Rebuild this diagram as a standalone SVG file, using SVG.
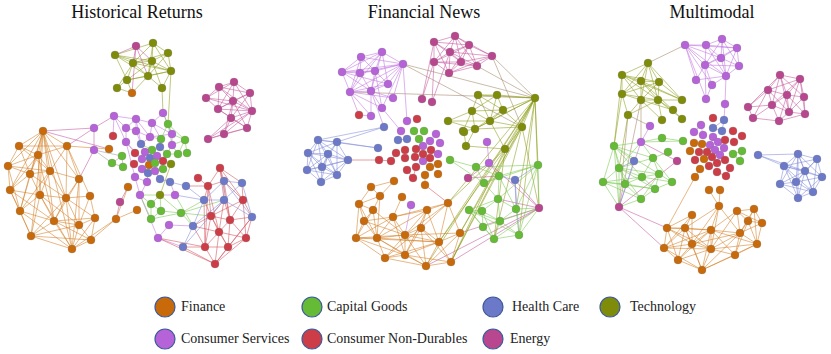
<svg xmlns="http://www.w3.org/2000/svg" width="831" height="354" viewBox="0 0 831 354">
<style>
.t{font-family:"Liberation Serif","Times New Roman",serif;font-size:18px;text-anchor:middle;fill:#111}
.l{font-family:"Liberation Serif","Times New Roman",serif;font-size:14px;fill:#222}
.e{fill:none;stroke-width:0.9;stroke-opacity:0.6}
.ef{stroke:#d27a1e}.eg{stroke:#76c84a}.eh{stroke:#7c88d8}.et{stroke:#8a9a10}.es{stroke:#c070e0}.ec{stroke:#d24a55}.ee{stroke:#c4509a}.eb{stroke:#a08060}.ey{stroke:#999}
circle.n{stroke:#777;stroke-opacity:0.5;stroke-width:0.5}
.fi{fill:#c8690a}.cg{fill:#66bb36}.hc{fill:#6c79c8}.te{fill:#7e8c0a}.cs{fill:#b662d9}.cn{fill:#cc3d47}.en{fill:#b9478f}
circle.k{stroke:#3d5a99;stroke-width:1.2}
</style>
<g id="titles">
<text class="t" x="137" y="18">Historical Returns</text>
<text class="t" x="424" y="18">Financial News</text>
<text class="t" x="712" y="18">Multimodal</text>
</g>
<g id="connectors">
<path class="e et" d="M115 55L133 63M115 55L153 43M115 55L152 61M115 55L127 80M115 55L148 76M115 55L171 71M133 63L153 43M133 63L152 61M133 63L168 53M133 63L171 71M133 63L148 76M133 63L127 80M133 63L117 88M153 43L168 53M153 43L152 61M153 43L171 71M153 43L148 76M168 53L152 61M168 53L171 71M168 53L148 76M152 61L171 71M152 61L148 76M152 61L127 80M152 61L162 88M171 71L148 76M171 71L162 88M171 71L127 80M127 80L148 76M127 80L117 88M148 76L162 88M117 88L132 93M127 80L132 93M148 76L132 93M171 71L168 124M162 88L163 113M171 164L160 195"/>
<path class="e ee" d="M115 55L136 46M136 46L152 61M136 46L148 76M136 46L132 93M136 46L133 63M234 82L219 87M234 82L250 93M234 82L206 98M234 82L233 101M234 82L218 109M234 82L252 111M219 87L206 98M219 87L233 101M219 87L218 109M219 87L250 93M219 87L252 111M250 93L233 101M250 93L252 111M250 93L218 109M250 93L231 118M206 98L233 101M206 98L218 109M206 98L252 111M233 101L218 109M233 101L252 111M233 101L231 118M233 101L247 128M218 109L252 111M218 109L231 118M218 109L247 128M252 111L231 118M252 111L247 128M231 118L247 128M231 118L224 134M231 118L208 139M247 128L224 134M247 128L208 139M224 134L208 139M252 111L224 134M233 101L224 134M252 111L208 139M43 131L94 128M94 128L94 150M94 150L79 179M94 128L114 116M120 202L116 219M120 202L128 187M43 131L109 149M67 146L94 128"/>
<path class="e ef" d="M43 131L19 146M43 131L38 155M43 131L30 174M43 131L50 171M43 131L8 166M43 131L40 195M43 131L10 190M43 131L20 211M43 131L67 146M43 131L54 221M43 131L66 198M43 131L79 179M43 131L31 236M43 131L72 249M19 146L38 155M19 146L8 166M19 146L30 174M19 146L50 171M19 146L67 146M38 155L8 166M38 155L30 174M38 155L50 171M38 155L40 195M38 155L10 190M38 155L67 146M38 155L54 221M8 166L30 174M8 166L10 190M8 166L20 211M8 166L50 171M30 174L50 171M30 174L10 190M30 174L40 195M30 174L20 211M30 174L66 198M50 171L40 195M50 171L66 198M50 171L67 146M50 171L79 179M50 171L20 211M67 146L79 179M67 146L66 198M67 146L90 196M67 146L109 149M79 179L66 198M79 179L79 225M79 179L72 249M79 179L54 221M10 190L40 195M10 190L20 211M10 190L31 236M10 190L54 221M40 195L66 198M40 195L20 211M40 195L54 221M40 195L31 236M40 195L72 249M40 195L79 225M66 198L54 221M66 198L79 225M66 198L90 196M66 198L31 236M66 198L95 218M66 198L72 249M20 211L54 221M20 211L31 236M20 211L72 249M54 221L79 225M54 221L31 236M54 221L72 249M54 221L91 240M54 221L95 218M79 225L95 218M79 225L91 240M79 225L72 249M90 196L79 225M90 196L95 218M95 218L91 240M95 218L72 249M31 236L72 249M31 236L91 240M91 240L72 249M31 236L79 225M72 249L116 219M116 219L137 210M128 187L116 219M116 219L91 240"/>
<path class="e ey" d="M94 150L122 156M122 156L112 163M122 156L123 167M112 163L123 167M94 150L112 163"/>
<path class="e es" d="M114 116L136 119M114 116L126 128M114 116L113 136M114 116L126 142M136 119L152 123M136 119L126 128M136 119L136 131M136 119L150 137M136 119L141 144M152 123L150 137M152 123L172 134M152 123L161 139M152 123L163 113M126 128L136 131M126 128L126 142M136 131L150 137M136 131L141 144M150 137L161 139M150 137L141 144M150 137L172 134M172 134L172 145M163 113L172 134M126 142L135 153M126 142L135 177M135 177L140 195M135 177L147 182M126 142L142 159M145 152L142 159M140 195L158 238M140 195L147 182M175 195L160 195M169 225L158 238M169 225L193 226M158 238L183 247M175 195L170 182M141 144L145 152M142 169L148 173M148 173L147 182"/>
<path class="e eg" d="M163 113L168 124M168 124L185 140M168 124L172 145M168 124L161 139M168 124L172 134M185 140L187 153M185 140L178 154M185 140L172 145M185 140L172 134M161 139L160 147M167 154L178 154M160 195L151 204M160 195L161 211M160 195L181 213M151 204L161 211M151 204L151 219M161 211L181 213M161 211L151 219M181 213L151 219M181 213L193 226M181 213L204 200M181 213L211 216M181 213L224 200M140 195L160 195M140 195L151 204M140 195L151 219M141 144L152 150M172 145L167 154M172 145L178 154M155 171L163 169M160 147L167 154M175 195L193 226"/>
<path class="e ec" d="M186 186L208 186M198 178L208 186M208 186L220 168M208 186L224 181M208 186L204 200M208 186L211 216M208 186L205 247M208 186L219 232M220 168L224 181M220 168L242 183M220 168L243 200M220 168L230 220M220 168L224 200M224 181L243 200M224 181L230 220M242 183L243 200M243 200L252 217M243 200L230 220M243 200L246 238M243 200L211 216M204 200L211 216M224 200L211 216M224 200L230 220M224 200L219 232M211 216L230 220M211 216L219 232M211 216L205 247M211 216L228 247M230 220L252 217M230 220L219 232M230 220L246 238M230 220L228 247M252 217L246 238M252 217L228 247M252 217L215 264M219 232L246 238M219 232L205 247M219 232L228 247M219 232L215 264M246 238L228 247M246 238L215 264M205 247L228 247M205 247L215 264M228 247L215 264M183 247L205 247M183 247L215 264M193 226L219 232M193 226L205 247M158 238L205 247M204 200L205 247M193 226L211 216M158 238L215 264"/>
<path class="e eh" d="M160 179L170 182M170 182L186 186M224 181L242 183M224 181L224 200M242 183L252 217M204 200L224 200M204 200L193 226M224 200L252 217M183 247L193 226M193 226L224 200M183 247L224 200M242 183L224 200M252 217L224 181M204 200L224 181M186 186L204 200M175 195L204 200M160 179L155 171"/>

<path class="e ee" d="M455 36L434 42M455 36L469 45M455 36L450 52M455 36L461 62M455 36L434 62M455 36L492 56M455 36L477 66M434 42L450 52M434 42L434 62M434 42L469 45M434 42L461 62M434 42L449 73M469 45L450 52M469 45L492 56M469 45L461 62M469 45L477 66M469 45L449 73M469 45L434 62M450 52L434 62M450 52L461 62M450 52L449 73M450 52L477 66M450 52L492 56M492 56L461 62M492 56L477 66M492 56L449 73M434 62L461 62M434 62L449 73M434 62L477 66M461 62L477 66M461 62L449 73M477 66L449 73M434 62L422 99M434 42L422 99M434 62L432 102M450 52L432 102M468 178L489 163M468 178L499 176M539 208L489 163M539 208L515 180M539 208L460 233M539 208L451 262M539 208L426 266M539 208L498 199"/>
<path class="e eb" d="M492 56L535 98M492 56L522 127M477 66L535 98M403 64L535 98M403 64L522 127M350 92L535 98"/>
<path class="e es" d="M382 52L361 57M382 52L360 73M382 52L375 71M382 52L403 64M382 52L342 72M382 52L388 84M382 52L371 91M382 52L350 92M361 57L342 72M361 57L360 73M361 57L375 71M361 57L350 92M361 57L403 64M342 72L360 73M342 72L375 71M342 72L403 64M342 72L350 92M342 72L371 91M342 72L388 84M360 73L375 71M360 73L403 64M360 73L350 92M360 73L371 91M375 71L403 64M375 71L388 84M375 71L371 91M375 71L382 108M403 64L388 84M403 64L350 92M403 64L371 91M403 64L393 98M403 64L382 108M388 84L371 91M388 84L350 92M350 92L371 91M350 92L382 108M350 92L359 115M350 92L371 116M371 91L382 108M371 91L393 98M371 91L371 116M350 92L393 98M403 64L407 121M359 115L371 116M371 91L384 127M382 108L401 131M487 142L489 163M489 163L499 176M411 205L405 235"/>
<path class="e et" d="M478 95L497 95M478 95L472 111M478 95L503 110M478 95L490 121M478 95L535 98M497 95L535 98M497 95L503 110M497 95L472 111M497 95L490 121M472 111L503 110M472 111L448 121M472 111L490 121M472 111L475 129M472 111L463 131M503 110L490 121M503 110L522 127M503 110L535 98M503 110L475 129M448 121L490 121M448 121L475 129M490 121L475 129M490 121L522 127M490 121L505 149M475 129L463 131M475 129L466 146M464 132L466 146M466 146L505 149M505 149L522 127M535 98L522 127M535 98L505 149M535 98L490 121M535 98L475 129M522 127L475 129M535 98L448 203M535 98L460 233M535 98L439 242M535 98L451 262M535 98L426 266M535 98L538 165M535 98L539 208M535 98L519 235M535 98L516 209M522 127L451 262M522 127L460 233M505 149L448 203M505 149L439 242M505 149L451 262M522 127L539 208M522 127L494 239M505 149L494 239"/>
<path class="e eh" d="M318 140L337 142M318 140L308 153M318 140L328 154M318 140L348 160M318 140L322 167M318 140L337 175M318 140L307 170M337 142L328 154M337 142L348 160M337 142L322 167M337 142L308 153M337 142L378 148M337 142L337 175M308 153L328 154M308 153L322 167M308 153L307 170M308 153L348 160M308 153L321 182M308 153L337 175M328 154L348 160M328 154L322 167M328 154L337 175M328 154L321 182M328 154L307 170M348 160L322 167M348 160L337 175M348 160L321 182M348 160L307 170M322 167L307 170M322 167L337 175M322 167L321 182M307 170L321 182M307 170L337 175M337 175L321 182M318 140L378 148M384 127L337 142M384 127L318 140M398 140L407 139M515 180L516 209M515 180L519 235M515 180L499 176M515 180L538 165"/>
<path class="e ec" d="M348 160L379 160M379 160L391 161M391 161L396 153M407 170L413 178M416 167L413 178M448 203L425 185"/>
<path class="e ef" d="M394 181L371 187M394 181L380 196M371 187L380 196M371 187L359 204M380 196L359 204M380 196L373 210M380 196L377 238M359 204L373 210M359 204L364 221M359 204L356 238M359 204L377 238M402 197L393 217M373 210L364 221M373 210L377 238M373 210L356 238M373 210L405 235M448 203L427 210M448 203L421 228M448 203L460 233M448 203L439 242M448 203L405 235M448 203L393 217M427 210L393 217M427 210L421 228M427 210L405 235M427 210L439 242M427 210L377 238M427 210L405 255M393 217L405 235M393 217L364 221M393 217L356 238M393 217L405 255M393 217L377 238M364 221L356 238M364 221L377 238M364 221L405 235M421 228L405 235M421 228L439 242M421 228L405 255M421 228L426 266M421 228L451 262M421 228L385 258M405 235L356 238M405 235L377 238M405 235L460 233M405 235L439 242M405 235L385 258M405 235L405 255M405 235L426 266M356 238L377 238M356 238L439 242M356 238L385 258M356 238L405 255M377 238L439 242M377 238L385 258M377 238L405 255M377 238L426 266M460 233L439 242M460 233L451 262M460 233L426 266M439 242L405 255M439 242L426 266M439 242L451 262M439 242L385 258M385 258L405 255M385 258L426 266M405 255L426 266M405 255L451 262M426 266L451 262M425 185L425 175"/>
<path class="e eg" d="M450 160L476 167M476 167L499 176M476 167L484 183M476 167L538 165M499 176L538 165M499 176L484 183M499 176L498 199M499 176L516 209M484 183L498 199M484 183L538 165M498 199L516 209M498 199L469 210M498 199L482 211M498 199L500 221M498 199L538 165M469 210L482 211M469 210L500 221M469 210L483 227M469 210L494 239M482 211L500 221M482 211L483 227M516 209L500 221M516 209L519 235M516 209L538 165M500 221L483 227M500 221L494 239M500 221L519 235M483 227L494 239M494 239L519 235M538 165L519 235M482 211L494 239M450 160L484 183M469 210L519 235M516 209L539 208M519 235L539 208M538 165L539 208M494 239L539 208M500 221L539 208"/>

<path class="e es" d="M722 39L706 45M722 39L737 48M722 39L721 58M722 39L739 66M722 39L726 76M722 39L705 65M685 45L706 45M685 45L721 58M685 45L705 65M685 45L696 80M685 45L737 48M685 45L726 76M685 45L706 99M685 45L712 85M706 45L737 48M706 45L721 58M706 45L705 65M706 45L726 76M737 48L721 58M737 48L739 66M737 48L726 76M737 48L705 65M721 58L705 65M721 58L739 66M721 58L726 76M705 65L726 76M705 65L696 80M705 65L712 85M705 65L739 66M739 66L726 76M726 76L712 85M726 76L725 104M726 76L696 80M712 85L706 99M705 65L706 99M725 104L724 120M701 125L694 132M701 125L703 135M619 207L641 142M650 126L641 142"/>
<path class="e eh" d="M724 120L713 128M713 128L722 131M724 120L722 131M634 161L619 168M634 161L619 207M758 155L798 154M758 155L784 166M758 155L805 171M798 154L817 159M798 154L784 166M798 154L805 171M798 154L822 177M798 154L796 182M798 154L813 192M798 154L798 198M798 154L780 184M817 159L784 166M817 159L805 171M817 159L822 177M817 159L796 182M817 159L813 192M784 166L805 171M784 166L780 184M784 166L796 182M784 166L813 192M784 166L798 198M784 166L822 177M805 171L822 177M805 171L780 184M805 171L796 182M805 171L813 192M805 171L798 198M822 177L796 182M822 177L813 192M822 177L798 198M780 184L796 182M780 184L798 198M796 182L813 192M796 182L798 198M813 192L798 198M780 184L813 192"/>
<path class="e eb" d="M685 45L648 63M628 115L650 126M641 100L641 142M628 115L619 207M619 207L641 100"/>
<path class="e et" d="M648 63L622 75M648 63L641 81M648 63L659 82M648 63L622 94M648 63L641 100M648 63L658 100M648 63L682 100M622 75L641 81M622 75L659 82M622 75L622 94M622 75L641 100M622 75L658 100M622 75L682 100M641 81L659 82M641 81L622 94M641 81L641 100M641 81L658 100M641 81L682 100M641 81L673 110M659 82L641 100M659 82L658 100M659 82L682 100M659 82L622 94M622 94L641 100M622 94L658 100M622 94L628 115M641 100L658 100M641 100L673 110M641 100L628 115M641 100L662 120M658 100L673 110M658 100L682 100M658 100L662 120M658 100L682 119M673 110L682 119M628 115L658 100M622 94L614 146M622 75L614 146M628 115L619 168"/>
<path class="e ee" d="M780 75L800 79M780 75L768 90M780 75L787 95M780 75L804 97M780 75L772 105M780 75L789 112M780 75L748 107M800 79L768 90M800 79L787 95M800 79L804 97M800 79L789 112M800 79L805 114M800 79L772 105M768 90L787 95M768 90L772 105M768 90L748 107M768 90L789 112M768 90L753 118M787 95L804 97M787 95L772 105M787 95L789 112M787 95L805 114M787 95L779 121M804 97L789 112M804 97L805 114M772 105L748 107M772 105L789 112M772 105L753 118M772 105L779 121M748 107L753 118M789 112L805 114M789 112L779 121M805 114L779 121M753 118L779 121M641 142L677 161M677 161L619 207M619 207L667 228M619 207L664 248"/>
<path class="e eg" d="M614 146L641 142M614 146L619 168M614 146L603 182M614 146L625 184M614 146L642 177M614 146L634 161M614 146L653 158M614 146L659 174M641 142L662 138M641 142L653 158M641 142L619 168M662 138L683 141M683 141L641 142M653 158L619 168M653 158L668 152M653 158L642 177M653 158L659 174M653 158L672 182M619 168L603 182M619 168L625 184M619 168L642 177M619 168L659 174M619 168L655 189M619 168L641 199M603 182L625 184M603 182L642 177M603 182L655 189M603 182L641 199M625 184L642 177M625 184L655 189M625 184L641 199M642 177L659 174M642 177L672 182M642 177L655 189M659 174L672 182M659 174L655 189M672 182L655 189M655 189L641 199M641 199L659 174M603 182L619 207M619 168L619 207M641 199L619 207M614 146L619 207M733 154L742 151M742 151L740 161M733 154L740 161"/>
<path class="e ec" d="M717 172L726 176M730 168L726 176"/>
<path class="e ef" d="M700 169L695 177M695 177L667 228M709 190L719 206M720 190L719 206M719 206L711 230M719 206L685 228M719 206L711 249M719 206L740 233M719 206L692 244M692 215L667 228M692 215L685 228M692 215L692 244M692 215L664 248M737 211L754 209M737 211L748 221M737 211L711 230M737 211L740 233M737 211L711 249M737 211L762 223M754 209L748 221M754 209L762 223M754 209L740 233M754 209L757 244M748 221L762 223M748 221L740 233M748 221L757 244M748 221L735 255M762 223L740 233M762 223L757 244M667 228L685 228M667 228L692 244M667 228L664 248M667 228L711 230M667 228L711 249M667 228L678 260M685 228L711 230M685 228L692 244M685 228L664 248M685 228L711 249M685 228L678 260M685 228L702 270M711 230L740 233M711 230L692 244M711 230L711 249M711 230L735 255M711 230L678 260M711 230L702 270M711 230L664 248M711 230L757 244M740 233L757 244M740 233L711 249M740 233L735 255M740 233L692 244M740 233L702 270M692 244L664 248M692 244L711 249M692 244L678 260M692 244L702 270M757 244L735 255M757 244L711 249M757 244L702 270M664 248L711 249M664 248L678 260M664 248L702 270M711 249L735 255M711 249L678 260M711 249L702 270M735 255L702 270M678 260L702 270"/>
</g>
<g id="historical-nodes">
<circle class="n te" id="h1" cx="153" cy="43" r="4"/><circle class="n te" id="h2" cx="115" cy="55" r="4"/><circle class="n te" id="h3" cx="168" cy="53" r="4"/><circle class="n te" id="h4" cx="133" cy="63" r="4"/><circle class="n te" id="h5" cx="152" cy="61" r="4"/><circle class="n te" id="h6" cx="171" cy="71" r="4"/><circle class="n te" id="h7" cx="127" cy="80" r="4"/><circle class="n te" id="h8" cx="148" cy="76" r="4"/><circle class="n te" id="h9" cx="117" cy="88" r="4"/><circle class="n te" id="h10" cx="162" cy="88" r="4"/><circle class="n en" id="h11" cx="136" cy="46" r="4"/><circle class="n fi" id="h12" cx="132" cy="93" r="4"/>
<circle class="n en" id="h13" cx="234" cy="82" r="4"/><circle class="n en" id="h14" cx="219" cy="87" r="4"/><circle class="n en" id="h15" cx="250" cy="93" r="4"/><circle class="n en" id="h16" cx="206" cy="98" r="4"/><circle class="n en" id="h17" cx="233" cy="101" r="4"/><circle class="n en" id="h18" cx="218" cy="109" r="4"/><circle class="n en" id="h19" cx="252" cy="111" r="4"/><circle class="n en" id="h20" cx="231" cy="118" r="4"/><circle class="n en" id="h21" cx="247" cy="128" r="4"/><circle class="n en" id="h22" cx="224" cy="134" r="4"/><circle class="n en" id="h23" cx="208" cy="139" r="4"/>
<circle class="n fi" id="h24" cx="43" cy="131" r="4"/><circle class="n fi" id="h25" cx="19" cy="146" r="4"/><circle class="n fi" id="h26" cx="67" cy="146" r="4"/><circle class="n fi" id="h27" cx="38" cy="155" r="4"/><circle class="n fi" id="h28" cx="8" cy="166" r="4"/><circle class="n fi" id="h29" cx="30" cy="174" r="4"/><circle class="n fi" id="h30" cx="50" cy="171" r="4"/><circle class="n fi" id="h31" cx="79" cy="179" r="4"/><circle class="n fi" id="h32" cx="10" cy="190" r="4"/><circle class="n fi" id="h33" cx="40" cy="195" r="4"/><circle class="n fi" id="h34" cx="66" cy="198" r="4"/><circle class="n fi" id="h35" cx="90" cy="196" r="4"/><circle class="n fi" id="h36" cx="20" cy="211" r="4"/><circle class="n fi" id="h37" cx="54" cy="221" r="4"/><circle class="n fi" id="h38" cx="79" cy="225" r="4"/><circle class="n fi" id="h39" cx="95" cy="218" r="4"/><circle class="n fi" id="h40" cx="31" cy="236" r="4"/><circle class="n fi" id="h41" cx="91" cy="240" r="4"/><circle class="n fi" id="h42" cx="72" cy="249" r="4"/><circle class="n fi" id="h43" cx="128" cy="187" r="4"/><circle class="n fi" id="h44" cx="116" cy="219" r="4"/><circle class="n fi" id="h45" cx="137" cy="210" r="4"/><circle class="n fi" id="h46" cx="109" cy="149" r="4"/>
<circle class="n cs" id="h47" cx="163" cy="113" r="4"/><circle class="n cg" id="h48" cx="168" cy="124" r="4"/><circle class="n cs" id="h49" cx="114" cy="116" r="4"/><circle class="n cs" id="h50" cx="94" cy="128" r="4"/><circle class="n cs" id="h51" cx="136" cy="119" r="4"/><circle class="n cs" id="h52" cx="152" cy="123" r="4"/><circle class="n cs" id="h53" cx="126" cy="128" r="4"/><circle class="n cs" id="h54" cx="136" cy="131" r="4"/><circle class="n cs" id="h55" cx="150" cy="137" r="4"/><circle class="n cs" id="h56" cx="172" cy="134" r="4"/><circle class="n cn" id="h57" cx="113" cy="136" r="4"/><circle class="n cg" id="h58" cx="161" cy="139" r="4"/><circle class="n cg" id="h59" cx="185" cy="140" r="4"/><circle class="n hc" id="h60" cx="141" cy="144" r="4"/><circle class="n cs" id="h61" cx="126" cy="142" r="4"/><circle class="n cg" id="h62" cx="152" cy="150" r="4"/><circle class="n hc" id="h63" cx="160" cy="147" r="4"/><circle class="n cs" id="h64" cx="172" cy="145" r="4"/><circle class="n cn" id="h65" cx="135" cy="153" r="4"/><circle class="n cs" id="h66" cx="145" cy="152" r="4"/><circle class="n hc" id="h67" cx="150" cy="158" r="4"/><circle class="n cs" id="h68" cx="157" cy="156" r="4"/><circle class="n cg" id="h69" cx="167" cy="154" r="4"/><circle class="n cg" id="h70" cx="178" cy="154" r="4"/><circle class="n cg" id="h71" cx="187" cy="153" r="4"/><circle class="n cn" id="h72" cx="134" cy="164" r="4"/><circle class="n cs" id="h73" cx="142" cy="159" r="4"/><circle class="n fi" id="h74" cx="149" cy="165" r="4"/><circle class="n cg" id="h75" cx="155" cy="163" r="4"/><circle class="n cn" id="h76" cx="163" cy="161" r="4"/><circle class="n te" id="h77" cx="171" cy="164" r="4"/><circle class="n cs" id="h78" cx="142" cy="169" r="4"/><circle class="n hc" id="h79" cx="148" cy="173" r="4"/><circle class="n cs" id="h80" cx="155" cy="171" r="4"/><circle class="n cg" id="h81" cx="163" cy="169" r="4"/><circle class="n cs" id="h82" cx="135" cy="177" r="4"/><circle class="n cs" id="h83" cx="147" cy="182" r="4"/><circle class="n hc" id="h84" cx="160" cy="179" r="4"/><circle class="n hc" id="h85" cx="170" cy="182" r="4"/><circle class="n hc" id="h86" cx="186" cy="186" r="4"/><circle class="n cs" id="h87" cx="94" cy="150" r="4"/><circle class="n cg" id="h88" cx="122" cy="156" r="4"/><circle class="n cg" id="h89" cx="112" cy="163" r="4"/><circle class="n cg" id="h90" cx="123" cy="167" r="4"/><circle class="n en" id="h91" cx="120" cy="202" r="4"/>
<circle class="n cs" id="h92" cx="140" cy="195" r="4"/><circle class="n te" id="h93" cx="160" cy="195" r="4"/><circle class="n cs" id="h94" cx="175" cy="195" r="4"/><circle class="n cn" id="h95" cx="198" cy="178" r="4"/><circle class="n cn" id="h96" cx="208" cy="186" r="4"/><circle class="n cn" id="h97" cx="220" cy="168" r="4"/><circle class="n hc" id="h98" cx="224" cy="181" r="4"/><circle class="n hc" id="h99" cx="242" cy="183" r="4"/><circle class="n hc" id="h100" cx="204" cy="200" r="4"/><circle class="n hc" id="h101" cx="224" cy="200" r="4"/><circle class="n cn" id="h102" cx="243" cy="200" r="4"/><circle class="n cg" id="h103" cx="151" cy="204" r="4"/><circle class="n cg" id="h104" cx="161" cy="211" r="4"/><circle class="n cg" id="h105" cx="181" cy="213" r="4"/><circle class="n cg" id="h106" cx="151" cy="219" r="4"/><circle class="n cn" id="h107" cx="211" cy="216" r="4"/><circle class="n cn" id="h108" cx="230" cy="220" r="4"/><circle class="n hc" id="h109" cx="252" cy="217" r="4"/><circle class="n cs" id="h110" cx="169" cy="225" r="4"/><circle class="n hc" id="h111" cx="193" cy="226" r="4"/><circle class="n cn" id="h112" cx="219" cy="232" r="4"/><circle class="n cs" id="h113" cx="158" cy="238" r="4"/><circle class="n cn" id="h114" cx="246" cy="238" r="4"/><circle class="n hc" id="h115" cx="183" cy="247" r="4"/><circle class="n cn" id="h116" cx="205" cy="247" r="4"/><circle class="n cn" id="h117" cx="228" cy="247" r="4"/><circle class="n cn" id="h118" cx="215" cy="264" r="4"/>
</g>
<g id="news-nodes">
<circle class="n en" id="n1" cx="455" cy="36" r="4"/><circle class="n en" id="n2" cx="434" cy="42" r="4"/><circle class="n en" id="n3" cx="469" cy="45" r="4"/><circle class="n en" id="n4" cx="450" cy="52" r="4"/><circle class="n en" id="n5" cx="492" cy="56" r="4"/><circle class="n en" id="n6" cx="434" cy="62" r="4"/><circle class="n en" id="n7" cx="461" cy="62" r="4"/><circle class="n en" id="n8" cx="477" cy="66" r="4"/><circle class="n en" id="n9" cx="449" cy="73" r="4"/><circle class="n en" id="n10" cx="422" cy="99" r="4"/><circle class="n en" id="n11" cx="432" cy="102" r="4"/>
<circle class="n cs" id="n12" cx="382" cy="52" r="4"/><circle class="n cs" id="n13" cx="361" cy="57" r="4"/><circle class="n cs" id="n14" cx="342" cy="72" r="4"/><circle class="n cs" id="n15" cx="360" cy="73" r="4"/><circle class="n cs" id="n16" cx="375" cy="71" r="4"/><circle class="n cs" id="n17" cx="403" cy="64" r="4"/><circle class="n cs" id="n18" cx="388" cy="84" r="4"/><circle class="n cs" id="n19" cx="350" cy="92" r="4"/><circle class="n cs" id="n20" cx="371" cy="91" r="4"/><circle class="n cs" id="n21" cx="393" cy="98" r="4"/><circle class="n cs" id="n22" cx="382" cy="108" r="4"/>
<circle class="n te" id="n23" cx="535" cy="98" r="4"/><circle class="n te" id="n24" cx="478" cy="95" r="4"/><circle class="n te" id="n25" cx="497" cy="95" r="4"/><circle class="n te" id="n26" cx="472" cy="111" r="4"/><circle class="n te" id="n27" cx="503" cy="110" r="4"/><circle class="n te" id="n28" cx="448" cy="121" r="4"/><circle class="n te" id="n29" cx="490" cy="121" r="4"/><circle class="n te" id="n30" cx="475" cy="129" r="4"/><circle class="n te" id="n31" cx="463" cy="131" r="4"/><circle class="n te" id="n32" cx="522" cy="127" r="4"/><circle class="n te" id="n33" cx="466" cy="146" r="4"/><circle class="n te" id="n34" cx="505" cy="149" r="4"/>
<circle class="n hc" id="n35" cx="318" cy="140" r="4"/><circle class="n hc" id="n36" cx="337" cy="142" r="4"/><circle class="n hc" id="n37" cx="308" cy="153" r="4"/><circle class="n hc" id="n38" cx="328" cy="154" r="4"/><circle class="n hc" id="n39" cx="348" cy="160" r="4"/><circle class="n hc" id="n40" cx="322" cy="167" r="4"/><circle class="n hc" id="n41" cx="307" cy="170" r="4"/><circle class="n hc" id="n42" cx="337" cy="175" r="4"/><circle class="n hc" id="n43" cx="321" cy="182" r="4"/><circle class="n hc" id="n44" cx="378" cy="148" r="4"/>
<circle class="n hc" id="n45" cx="384" cy="127" r="4"/><circle class="n hc" id="n46" cx="398" cy="140" r="4"/><circle class="n hc" id="n47" cx="407" cy="139" r="4"/><circle class="n cs" id="n48" cx="401" cy="131" r="4"/><circle class="n cs" id="n49" cx="407" cy="121" r="4"/><circle class="n cs" id="n50" cx="436" cy="134" r="4"/><circle class="n cs" id="n51" cx="430" cy="141" r="4"/><circle class="n cs" id="n52" cx="440" cy="143" r="4"/><circle class="n cs" id="n53" cx="423" cy="146" r="4"/><circle class="n cs" id="n54" cx="438" cy="154" r="4"/><circle class="n cs" id="n55" cx="423" cy="161" r="4"/><circle class="n cs" id="n56" cx="371" cy="116" r="4"/><circle class="n cn" id="n57" cx="359" cy="115" r="4"/><circle class="n cn" id="n58" cx="417" cy="119" r="4"/><circle class="n cn" id="n59" cx="379" cy="160" r="4"/><circle class="n cn" id="n60" cx="391" cy="161" r="4"/><circle class="n cn" id="n61" cx="396" cy="153" r="4"/><circle class="n cn" id="n62" cx="405" cy="150" r="4"/><circle class="n cn" id="n63" cx="416" cy="149" r="4"/><circle class="n cn" id="n64" cx="405" cy="158" r="4"/><circle class="n cn" id="n65" cx="415" cy="157" r="4"/><circle class="n cn" id="n66" cx="423" cy="154" r="4"/><circle class="n cn" id="n67" cx="430" cy="158" r="4"/><circle class="n cn" id="n68" cx="431" cy="150" r="4"/><circle class="n cn" id="n69" cx="407" cy="170" r="4"/><circle class="n cn" id="n70" cx="416" cy="167" r="4"/><circle class="n cn" id="n71" cx="413" cy="178" r="4"/><circle class="n cg" id="n72" cx="414" cy="131" r="4"/><circle class="n cg" id="n73" cx="424" cy="131" r="4"/><circle class="n cg" id="n74" cx="419" cy="139" r="4"/><circle class="n fi" id="n75" cx="438" cy="164" r="4"/><circle class="n fi" id="n76" cx="430" cy="167" r="4"/><circle class="n fi" id="n77" cx="438" cy="174" r="4"/><circle class="n fi" id="n78" cx="425" cy="175" r="4"/><circle class="n fi" id="n79" cx="425" cy="185" r="4"/><circle class="n te" id="n80" cx="464" cy="132" r="4"/>
<circle class="n cs" id="n81" cx="487" cy="142" r="4"/><circle class="n cs" id="n82" cx="489" cy="163" r="4"/><circle class="n en" id="n83" cx="468" cy="178" r="4"/><circle class="n en" id="n84" cx="539" cy="208" r="4"/><circle class="n hc" id="n85" cx="515" cy="180" r="4"/>
<circle class="n cg" id="n86" cx="450" cy="160" r="4"/><circle class="n cg" id="n87" cx="476" cy="167" r="4"/><circle class="n cg" id="n88" cx="538" cy="165" r="4"/><circle class="n cg" id="n89" cx="499" cy="176" r="4"/><circle class="n cg" id="n90" cx="484" cy="183" r="4"/><circle class="n cg" id="n91" cx="498" cy="199" r="4"/><circle class="n cg" id="n92" cx="469" cy="210" r="4"/><circle class="n cg" id="n93" cx="482" cy="211" r="4"/><circle class="n cg" id="n94" cx="516" cy="209" r="4"/><circle class="n cg" id="n95" cx="500" cy="221" r="4"/><circle class="n cg" id="n96" cx="483" cy="227" r="4"/><circle class="n cg" id="n97" cx="494" cy="239" r="4"/><circle class="n cg" id="n98" cx="519" cy="235" r="4"/>
<circle class="n fi" id="n99" cx="394" cy="181" r="4"/><circle class="n fi" id="n100" cx="371" cy="187" r="4"/><circle class="n fi" id="n101" cx="380" cy="196" r="4"/><circle class="n fi" id="n102" cx="359" cy="204" r="4"/><circle class="n fi" id="n103" cx="402" cy="197" r="4"/><circle class="n fi" id="n104" cx="373" cy="210" r="4"/><circle class="n fi" id="n105" cx="448" cy="203" r="4"/><circle class="n fi" id="n106" cx="427" cy="210" r="4"/><circle class="n fi" id="n107" cx="393" cy="217" r="4"/><circle class="n fi" id="n108" cx="364" cy="221" r="4"/><circle class="n fi" id="n109" cx="421" cy="228" r="4"/><circle class="n fi" id="n110" cx="405" cy="235" r="4"/><circle class="n fi" id="n111" cx="356" cy="238" r="4"/><circle class="n fi" id="n112" cx="377" cy="238" r="4"/><circle class="n fi" id="n113" cx="460" cy="233" r="4"/><circle class="n fi" id="n114" cx="439" cy="242" r="4"/><circle class="n fi" id="n115" cx="385" cy="258" r="4"/><circle class="n fi" id="n116" cx="405" cy="255" r="4"/><circle class="n fi" id="n117" cx="426" cy="266" r="4"/><circle class="n fi" id="n118" cx="451" cy="262" r="4"/><circle class="n cs" id="n119" cx="411" cy="205" r="4"/>
</g>
<g id="multimodal-nodes">
<circle class="n cs" id="m1" cx="722" cy="39" r="4"/><circle class="n cs" id="m2" cx="685" cy="45" r="4"/><circle class="n cs" id="m3" cx="706" cy="45" r="4"/><circle class="n cs" id="m4" cx="737" cy="48" r="4"/><circle class="n cs" id="m5" cx="721" cy="58" r="4"/><circle class="n cs" id="m6" cx="705" cy="65" r="4"/><circle class="n cs" id="m7" cx="739" cy="66" r="4"/><circle class="n cs" id="m8" cx="726" cy="76" r="4"/><circle class="n cs" id="m9" cx="696" cy="80" r="4"/><circle class="n cs" id="m10" cx="712" cy="85" r="4"/><circle class="n cs" id="m11" cx="706" cy="99" r="4"/><circle class="n cs" id="m12" cx="725" cy="104" r="4"/>
<circle class="n te" id="m13" cx="648" cy="63" r="4"/><circle class="n te" id="m14" cx="622" cy="75" r="4"/><circle class="n te" id="m15" cx="641" cy="81" r="4"/><circle class="n te" id="m16" cx="659" cy="82" r="4"/><circle class="n te" id="m17" cx="622" cy="94" r="4"/><circle class="n te" id="m18" cx="641" cy="100" r="4"/><circle class="n te" id="m19" cx="658" cy="100" r="4"/><circle class="n te" id="m20" cx="682" cy="100" r="4"/><circle class="n te" id="m21" cx="673" cy="110" r="4"/><circle class="n te" id="m22" cx="628" cy="115" r="4"/><circle class="n te" id="m23" cx="662" cy="120" r="4"/><circle class="n te" id="m24" cx="682" cy="119" r="4"/>
<circle class="n en" id="m25" cx="780" cy="75" r="4"/><circle class="n en" id="m26" cx="800" cy="79" r="4"/><circle class="n en" id="m27" cx="768" cy="90" r="4"/><circle class="n en" id="m28" cx="787" cy="95" r="4"/><circle class="n en" id="m29" cx="804" cy="97" r="4"/><circle class="n en" id="m30" cx="772" cy="105" r="4"/><circle class="n en" id="m31" cx="748" cy="107" r="4"/><circle class="n en" id="m32" cx="789" cy="112" r="4"/><circle class="n en" id="m33" cx="805" cy="114" r="4"/><circle class="n en" id="m34" cx="753" cy="118" r="4"/><circle class="n en" id="m35" cx="779" cy="121" r="4"/>
<circle class="n cg" id="m36" cx="614" cy="146" r="4"/><circle class="n cs" id="m37" cx="641" cy="142" r="4"/><circle class="n cg" id="m38" cx="662" cy="138" r="4"/><circle class="n cg" id="m39" cx="683" cy="141" r="4"/><circle class="n hc" id="m40" cx="634" cy="161" r="4"/><circle class="n cg" id="m41" cx="653" cy="158" r="4"/><circle class="n cg" id="m42" cx="668" cy="152" r="4"/><circle class="n en" id="m43" cx="677" cy="161" r="4"/><circle class="n cg" id="m44" cx="619" cy="168" r="4"/><circle class="n cg" id="m45" cx="603" cy="182" r="4"/><circle class="n cg" id="m46" cx="625" cy="184" r="4"/><circle class="n cg" id="m47" cx="642" cy="177" r="4"/><circle class="n cg" id="m48" cx="659" cy="174" r="4"/><circle class="n cg" id="m49" cx="672" cy="182" r="4"/><circle class="n cg" id="m50" cx="655" cy="189" r="4"/><circle class="n cg" id="m51" cx="641" cy="199" r="4"/><circle class="n en" id="m52" cx="619" cy="207" r="4"/><circle class="n cs" id="m53" cx="650" cy="126" r="4"/>
<circle class="n cn" id="m54" cx="713" cy="118" r="4"/><circle class="n hc" id="m55" cx="724" cy="120" r="4"/><circle class="n hc" id="m56" cx="713" cy="128" r="4"/><circle class="n hc" id="m57" cx="722" cy="131" r="4"/><circle class="n cs" id="m58" cx="701" cy="125" r="4"/><circle class="n cs" id="m59" cx="694" cy="132" r="4"/><circle class="n cs" id="m60" cx="703" cy="135" r="4"/><circle class="n cs" id="m61" cx="713" cy="137" r="4"/><circle class="n cn" id="m62" cx="733" cy="131" r="4"/><circle class="n cn" id="m63" cx="742" cy="136" r="4"/><circle class="n fi" id="m64" cx="694" cy="143" r="4"/><circle class="n fi" id="m65" cx="702" cy="144" r="4"/><circle class="n cs" id="m66" cx="710" cy="145" r="4"/><circle class="n cs" id="m67" cx="718" cy="142" r="4"/><circle class="n cn" id="m68" cx="725" cy="140" r="4"/><circle class="n cn" id="m69" cx="734" cy="142" r="4"/><circle class="n fi" id="m70" cx="690" cy="151" r="4"/><circle class="n cn" id="m71" cx="699" cy="152" r="4"/><circle class="n cn" id="m72" cx="707" cy="152" r="4"/><circle class="n cs" id="m73" cx="715" cy="150" r="4"/><circle class="n cs" id="m74" cx="724" cy="148" r="4"/><circle class="n cg" id="m75" cx="733" cy="154" r="4"/><circle class="n cg" id="m76" cx="742" cy="151" r="4"/><circle class="n cg" id="m77" cx="740" cy="161" r="4"/><circle class="n cn" id="m78" cx="695" cy="160" r="4"/><circle class="n fi" id="m79" cx="704" cy="159" r="4"/><circle class="n cn" id="m80" cx="712" cy="157" r="4"/><circle class="n cs" id="m81" cx="720" cy="155" r="4"/><circle class="n cn" id="m82" cx="717" cy="163" r="4"/><circle class="n cn" id="m83" cx="725" cy="160" r="4"/><circle class="n cn" id="m84" cx="709" cy="166" r="4"/><circle class="n cn" id="m85" cx="730" cy="168" r="4"/><circle class="n fi" id="m86" cx="700" cy="169" r="4"/><circle class="n cn" id="m87" cx="717" cy="172" r="4"/><circle class="n cn" id="m88" cx="726" cy="176" r="4"/><circle class="n fi" id="m89" cx="695" cy="177" r="4"/>
<circle class="n hc" id="m90" cx="758" cy="155" r="4"/><circle class="n hc" id="m91" cx="798" cy="154" r="4"/><circle class="n hc" id="m92" cx="817" cy="159" r="4"/><circle class="n hc" id="m93" cx="784" cy="166" r="4"/><circle class="n hc" id="m94" cx="805" cy="171" r="4"/><circle class="n hc" id="m95" cx="822" cy="177" r="4"/><circle class="n hc" id="m96" cx="780" cy="184" r="4"/><circle class="n hc" id="m97" cx="796" cy="182" r="4"/><circle class="n hc" id="m98" cx="813" cy="192" r="4"/><circle class="n hc" id="m99" cx="798" cy="198" r="4"/>
<circle class="n fi" id="m100" cx="709" cy="190" r="4"/><circle class="n fi" id="m101" cx="720" cy="190" r="4"/><circle class="n fi" id="m102" cx="719" cy="206" r="4"/><circle class="n fi" id="m103" cx="692" cy="215" r="4"/><circle class="n fi" id="m104" cx="737" cy="211" r="4"/><circle class="n fi" id="m105" cx="754" cy="209" r="4"/><circle class="n fi" id="m106" cx="748" cy="221" r="4"/><circle class="n fi" id="m107" cx="762" cy="223" r="4"/><circle class="n fi" id="m108" cx="667" cy="228" r="4"/><circle class="n fi" id="m109" cx="685" cy="228" r="4"/><circle class="n fi" id="m110" cx="711" cy="230" r="4"/><circle class="n fi" id="m111" cx="740" cy="233" r="4"/><circle class="n fi" id="m112" cx="692" cy="244" r="4"/><circle class="n fi" id="m113" cx="757" cy="244" r="4"/><circle class="n fi" id="m114" cx="664" cy="248" r="4"/><circle class="n fi" id="m115" cx="711" cy="249" r="4"/><circle class="n fi" id="m116" cx="735" cy="255" r="4"/><circle class="n fi" id="m117" cx="678" cy="260" r="4"/><circle class="n fi" id="m118" cx="702" cy="270" r="4"/>
</g>
<g id="legend">
<g id="lg-fin"><circle class="k fi" cx="165" cy="307" r="10"/><text class="l" x="181" y="311">Finance</text></g>
<g id="lg-cg"><circle class="k cg" cx="312" cy="307" r="10"/><text class="l" x="327" y="311">Capital Goods</text></g>
<g id="lg-hc"><circle class="k hc" cx="493" cy="307" r="10"/><text class="l" x="512" y="311">Health Care</text></g>
<g id="lg-te"><circle class="k te" cx="610" cy="307" r="10"/><text class="l" x="630" y="311">Technology</text></g>
<g id="lg-cs"><circle class="k cs" cx="165" cy="339" r="10"/><text class="l" x="181" y="343">Consumer Services</text></g>
<g id="lg-cn"><circle class="k cn" cx="312" cy="339" r="10"/><text class="l" x="327" y="343">Consumer Non-Durables</text></g>
<g id="lg-en"><circle class="k en" cx="493" cy="339" r="10"/><text class="l" x="510" y="343">Energy</text></g>
</g>
</svg>
